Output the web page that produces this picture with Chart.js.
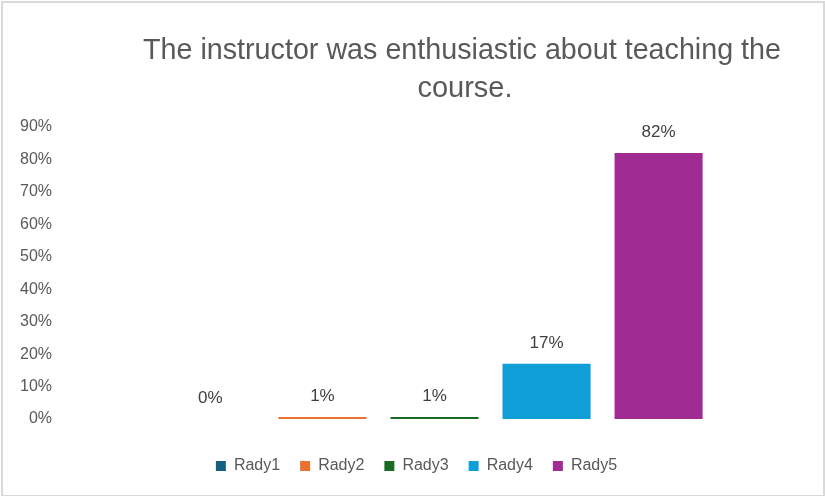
<!DOCTYPE html>
<html>
<head>
<meta charset="utf-8">
<script src="https://cdn.jsdelivr.net/npm/chart.js@4/dist/chart.umd.min.js"></script>
<style>
  html, body { margin: 0; padding: 0; background: #fff; }
  #chart { display: block; }
</style>
</head>
<body>
<canvas id="chart" width="825" height="496"></canvas>
<script>
// ================================
// DATA
// ================================
const titleLines = ["The instructor was enthusiastic about teaching the", "course."];
const categories = [""];
const seriesNames = ["Rady1", "Rady2", "Rady3", "Rady4", "Rady5"];
const seriesValues = [0, 0.6, 0.6, 17, 82];
const seriesColors = ["#156082", "#E97132", "#196B24", "#0F9ED5", "#A02B93"];
const yTicks = [0, 10, 20, 30, 40, 50, 60, 70, 80, 90];

const GREY = "#595959";
const FONT = "'Liberation Sans', Arial, sans-serif";

// frame + white background
const framePlugin = {
  id: "frame",
  beforeDraw(chart) {
    const ctx = chart.ctx;
    ctx.save();
    ctx.fillStyle = "#fff";
    ctx.fillRect(0, 0, chart.width, chart.height);
    ctx.strokeStyle = "#d9d9d9";
    ctx.lineWidth = 2;
    ctx.strokeRect(2, 2, chart.width - 3, chart.height - 2);
    ctx.restore();
  }
};

// legend sits a bit right of the canvas centre in the original
const legendShift = {
  id: "legendShift",
  afterLayout(chart) {
    chart.legend.left += 12;
    chart.legend.right += 12;
  }
};

// title drawn by hand so it can sit off-centre like the original
const titlePlugin = {
  id: "offTitle",
  afterDraw(chart) {
    const ctx = chart.ctx;
    ctx.save();
    ctx.fillStyle = GREY;
    ctx.font = "29px " + FONT;
    ctx.textAlign = "center";
    ctx.textBaseline = "alphabetic";
    ctx.fillText(titleLines[0], 462, 59, 638);
    ctx.fillText(titleLines[1], 465, 97, 638);
    ctx.restore();
  }
};

// value labels above bars
const valueLabels = {
  id: "valueLabels",
  afterDatasetsDraw(chart) {
    const ctx = chart.ctx;
    ctx.save();
    ctx.fillStyle = "#404040";
    ctx.font = "17px " + FONT;
    ctx.textAlign = "center";
    ctx.textBaseline = "middle";
    chart.data.datasets.forEach((ds, i) => {
      const bar = chart.getDatasetMeta(i).data[0];
      ctx.fillText(Math.round(ds.data[0]) + "%", bar.x, bar.y - 21);
    });
    ctx.restore();
  }
};

const datasets = seriesNames.map((name, i) => ({
  label: name,
  data: [seriesValues[i]],
  backgroundColor: seriesColors[i],
  borderWidth: 0,
  categoryPercentage: 0.748,
  barPercentage: 0.786
}));

new Chart(document.getElementById("chart"), {
  type: "bar",
  data: { labels: categories, datasets },
  options: {
    responsive: false,
    animation: false,
    layout: { padding: { top: 127, left: 0, right: 16, bottom: 12 } },
    plugins: {
      title: { display: false },
      tooltip: { enabled: false },
      legend: {
        position: "bottom",
        labels: {
          color: GREY,
          font: { family: FONT, size: 16 },
          boxWidth: 10,
          boxHeight: 10,
          padding: 20
        }
      }
    },
    scales: {
      x: {
        display: true,
        grid: { display: false, drawTicks: false },
        border: { display: false },
        ticks: { display: false },
        afterFit: s => { s.height = 19; }
      },
      y: {
        min: 0,
        max: 90,
        afterFit: s => { s.width = 60; },
        afterBuildTicks: s => { s.ticks = yTicks.map(v => ({ value: v })); },
        grid: { display: false, drawTicks: false },
        border: { display: false },
        ticks: {
          padding: 8,
          color: GREY,
          font: { family: FONT, size: 16 },
          callback: v => v + "%"
        }
      }
    }
  },
  plugins: [framePlugin, legendShift, titlePlugin, valueLabels]
});
</script>
</body>
</html>
